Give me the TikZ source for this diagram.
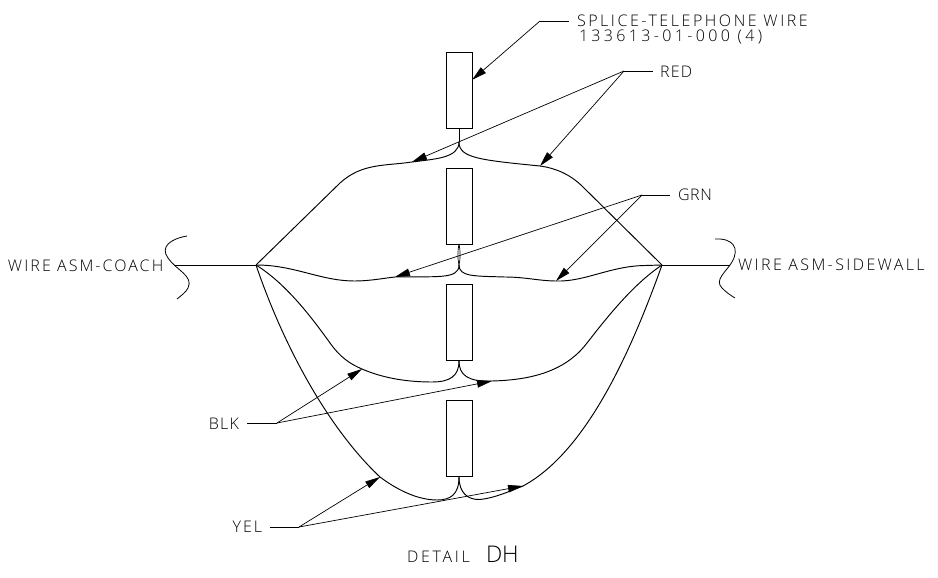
\documentclass[tikz,border=0pt]{standalone}
\usepackage{fontspec}
\setmainfont{Open Sans Light}
\newcommand{\lsp}[1]{\addfontfeature{LetterSpace=#1}}
\usetikzlibrary{arrows.meta}
\tikzset{
  splice/.style={draw,line width=0.9pt,minimum width=26pt,minimum height=76pt,inner sep=0pt,outer sep=0pt},
  wire/.style={line width=0.95pt},
  leader/.style={line width=0.7pt,-{Triangle[length=15pt,width=7.5pt]}},
  stub/.style={line width=0.7pt},
  lbl/.style={inner sep=0pt,outer sep=0pt,text=black,font=\fontsize{16}{16}\selectfont}
}
\begin{document}
\begin{tikzpicture}[x=1pt,y=-1pt]
\useasboundingbox (0,0) rectangle (938,578);
% splices
\node[splice] (s1) at (459,90) {};
\node[splice] (s2) at (459,206) {};
\node[splice] (s3) at (459,322) {};
\node[splice] (s4) at (459,438) {};
% junctions
\coordinate (L) at (256,265);
\coordinate (R) at (662,265);
\coordinate (j1) at (459,142);
\coordinate (j2) at (459,265);
\coordinate (j3) at (459,361);
\coordinate (j4) at (459,477);
\coordinate (tr1) at (412,162);
\coordinate (tr2) at (540,166);
\coordinate (tg1) at (395,277);
\coordinate (tg2) at (556,281);
\coordinate (tb1) at (362,369);
\coordinate (tb2) at (492,381);
\coordinate (ty1) at (380,477);
\coordinate (ty2) at (523,486);
\coordinate (ts) at (472,80);
\coordinate (kS) at (540,21);
\coordinate (kR) at (624,71);
\coordinate (kG) at (642,195);
\coordinate (kB) at (277,423);
\coordinate (kY) at (299,527);
% labels
\node[lbl,anchor=west] (lS) at (577,21) {\lsp{16}SPLICE-TELEPHONE WIRE};
\node[lbl,anchor=west] (lS2) at (579,37) {\lsp{21}133613-01-000 (4)};
\node[lbl,anchor=west] (lR) at (660,72) {\lsp{8}RED};
\node[lbl,anchor=west] (lG) at (678,195) {\lsp{4}GRN};
\node[lbl,anchor=east] (lB) at (239,424) {\lsp{8}BLK};
\node[lbl,anchor=east] (lY) at (262,527) {\lsp{12}YEL};
\node[lbl,anchor=west] (lC) at (8,266) {\lsp{13}WIRE ASM-COACH};
\node[lbl,anchor=west] (lW) at (738,265) {\lsp{15}WIRE ASM-SIDEWALL};
\node[lbl,anchor=base west] (lD) at (407,562) {\lsp{17}DETAIL};
\node[lbl,anchor=base west,font=\fontsize{23}{23}\selectfont] (lH) at (486,562) {DH};
% stems
\draw[wire] (s1.south) -- (j1);
\draw[line width=0.7pt] (s2.south) .. controls (457.5,252) and (457.5,258) .. (j2);
\draw[line width=0.7pt] (s2.south) .. controls (460.5,252) and (460.5,258) .. (j2);
\draw[wire] (s3.south) -- (j3);
\draw[wire] (s4.south) -- (j4);
% red
\draw[wire] (L) -- (340,183) .. controls (362,163) and (385,166) .. (tr1) .. controls (435,159) and (459,158) .. (j1);
\draw[wire] (j1) .. controls (459,158) and (480,160) .. (tr2) .. controls (555,168) and (570,174) .. (583,187) -- (R);
% green
\draw[wire] (L) .. controls (295,265) and (320,281) .. (355,281) .. controls (370,281) and (385,278) .. (tg1) .. controls (435,276) and (459,280) .. (j2);
\draw[wire] (j2) .. controls (459,277) and (475,276) .. (505,277) .. controls (525,277) and (540,281) .. (tg2) .. controls (585,282) and (610,266) .. (645,265.5) -- (R);
% black
\draw[wire] (L) .. controls (285,283) and (310,315) .. (330,343) .. controls (340,357) and (350,364) .. (tb1) .. controls (385,379) and (410,382) .. (432,382) .. controls (450,382) and (459,376) .. (j3);
\draw[wire] (j3) .. controls (459,375) and (468,382) .. (tb2) .. controls (530,380) and (565,372) .. (587,343) .. controls (605,320) and (632,285) .. (R);
% yellow
\draw[wire] (L) .. controls (285,350) and (330,430) .. (ty1) .. controls (400,492) and (420,500) .. (437,500) .. controls (450,500) and (459,495) .. (j4);
\draw[wire] (j4) .. controls (459,493) and (468,500) .. (480,499.5) .. controls (495,498) and (510,491) .. (ty2) .. controls (590,450) and (635,340) .. (R);
% main wires and breaks
\coordinate (bL) at (175,265);
\coordinate (bR) at (730,265);
\draw[wire] (bL) -- (L);
\draw[wire] (R) -- (bR);
\draw[line width=0.8pt] (187,236) .. controls (170,239) and (160,247) .. (168,258) .. controls (176,270) and (194,276) .. (188,288) .. controls (186,292) and (182,295) .. (177,299);
\draw[line width=0.8pt] (715,239) .. controls (733,238) and (740,248) .. (732,262) .. controls (726,272) and (714,280) .. (722,288) .. controls (726,292) and (730,295) .. (735,298);
% leaders
\draw[stub] (lS.west) ++(-8,0) -- (kS);
\draw[leader] (kS) -- (ts);
\draw[stub] (lR.west) ++(-7,-1) -- (kR);
\draw[leader] (kR) -- (tr1);
\draw[leader] (kR) -- (tr2);
\draw[stub] (lG.west) ++(-8,0) -- (kG);
\draw[leader] (kG) -- (tg1);
\draw[leader] (kG) -- (tg2);
\draw[stub] (lB.east) ++(8,-1) -- (kB);
\draw[leader] (kB) -- (tb1);
\draw[leader] (kB) -- (tb2);
\draw[stub] (lY.east) ++(8,0) -- (kY);
\draw[leader] (kY) -- (ty1);
\draw[leader] (kY) -- (ty2);
\end{tikzpicture}
\end{document}
